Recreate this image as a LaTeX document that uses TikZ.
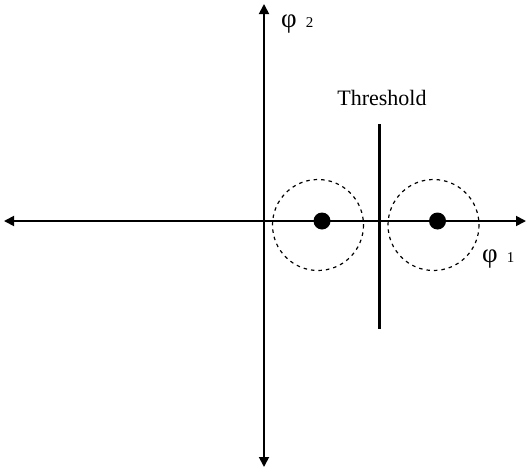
\documentclass[tikz,border=0pt]{standalone}
\usepackage{fontspec}
\setmainfont{Liberation Serif}
\usetikzlibrary{arrows.meta}

\begin{document}
\begin{tikzpicture}[x=1pt, y=-1pt,
        axis/.style={line width=1.8pt, {Triangle[length=10pt, width=10pt]}-{Triangle[length=10pt, width=10pt]}},
        class/.style={circle, fill=black, inner sep=0pt, minimum size=17pt},
        region/.style={dashed, dash pattern=on 3.5pt off 4pt, line width=1.2pt},
        lbl/.style={font=\fontsize{22}{26}\selectfont, inner sep=0pt},
        sym/.style={font=\fontsize{27}{30}\selectfont, inner sep=0pt, anchor=west}]
    \useasboundingbox (0,0) rectangle (527,471);
    \coordinate (L) at (4,221);
    \coordinate (R) at (526,221);
    \coordinate (T) at (264,4);
    \coordinate (B) at (264,467);
    \draw[axis] (L) -- (R);
    \draw[axis] (B) -- (T);
    \draw[region] (318,225) circle (45.5);
    \draw[region] (433.5,225) circle (45.5);
    \node[class] (c1) at (322,221) {};
    \node[class] (c2) at (437.5,221) {};
    \coordinate (t1) at (379.5,124);
    \coordinate (t2) at (379.5,329);
    \draw[line width=3.6pt] (t1) -- (t2);
    \node[lbl] (thr) at (382,98) {Threshold};
    \node[sym] (phi2) at (281,24) {φ\,\,{\fontsize{15}{18}\selectfont 2}};
    \node[sym] (phi1) at (482,259) {φ\,\,{\fontsize{15}{18}\selectfont 1}};
\end{tikzpicture}
\end{document}
